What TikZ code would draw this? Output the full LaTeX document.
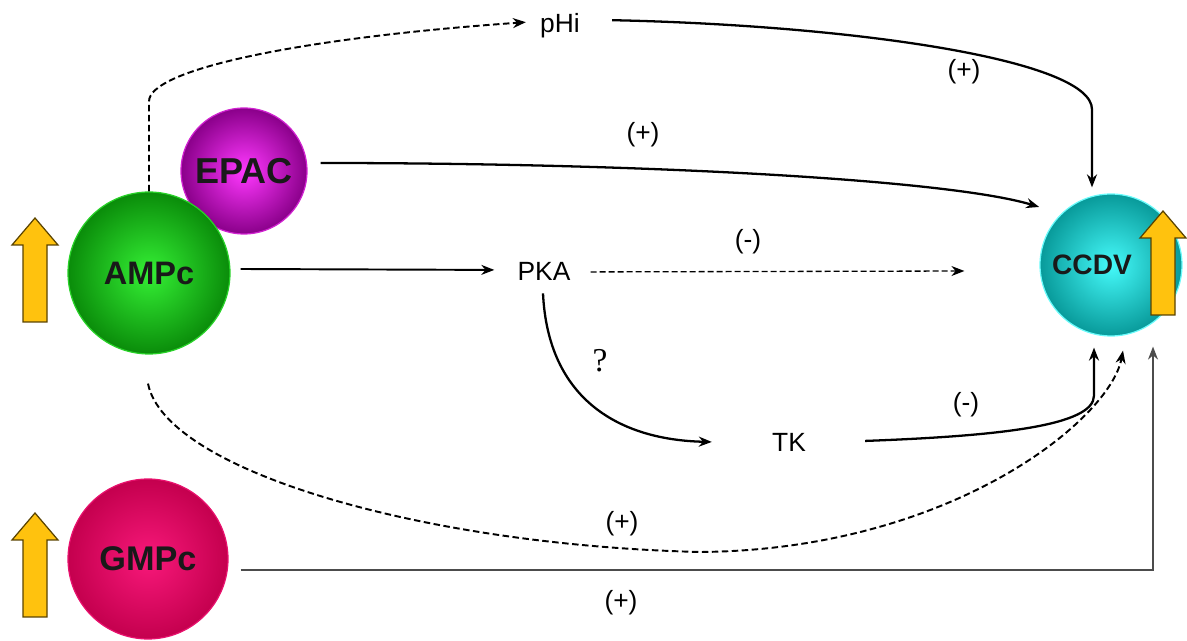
\documentclass[tikz,border=0pt]{standalone}
\usepackage{fontspec}
\setmainfont{Liberation Sans}
\newfontfamily\queryfont{Liberation Serif}
\usetikzlibrary{arrows.meta, calc}
\definecolor{ampIn}{HTML}{35F035}
\definecolor{ampOut}{HTML}{0A8C0A}
\definecolor{epacIn}{HTML}{FF38FF}
\definecolor{epacOut}{HTML}{8A008A}
\definecolor{gmpIn}{HTML}{F8187A}
\definecolor{gmpOut}{HTML}{C4004E}
\definecolor{ccdvIn}{HTML}{45FAFA}
\definecolor{ccdvOut}{HTML}{089A9A}
\definecolor{boostFill}{HTML}{FFC20E}
\definecolor{boostEdge}{HTML}{5A4300}

\begin{document}
\begin{tikzpicture}[
    x=0.02cm, y=-0.02cm,
    >={Stealth[length=0.26cm, width=0.2cm]},
    ball/.style={circle, inner sep=0pt, shading=radial, line width=0.7pt, text=black!90},
    amp/.style={ball, minimum size=3.24cm, draw=ampIn!70!ampOut,
        inner color=ampIn, outer color=ampOut,
        font=\bfseries\fontsize{18.5}{20}\selectfont},
    epac/.style={ball, minimum size=2.52cm, draw=epacIn!60!epacOut,
        inner color=epacIn, outer color=epacOut,
        font=\bfseries\fontsize{20.5}{22}\selectfont},
    gmp/.style={ball, minimum size=3.2cm, draw=gmpIn!70!gmpOut,
        inner color=gmpIn, outer color=gmpOut,
        font=\bfseries\fontsize{19.5}{21}\selectfont},
    ccd/.style={ball, minimum size=2.84cm, draw=ccdvIn!80!white,
        inner color=ccdvIn, outer color=ccdvOut},
    ccdtext/.style={inner sep=0pt, text=black!90, font=\bfseries\fontsize{16}{18}\selectfont},
    lbl/.style={anchor=base, inner sep=0pt, font=\fontsize{15}{18}\selectfont},
    link/.style={->, line width=1.1pt},
    curvy/.style={->, line width=1.3pt},
    hint/.style={->, line width=1.1pt, dash pattern=on 0.13cm off 0.07cm},
    faint/.style={->, line width=0.75pt, dash pattern=on 0.12cm off 0.06cm},
    cgmp/.style={->, line width=0.8pt, draw=black!70},
    boostarrow/.style={fill=boostFill, draw=boostEdge, line width=0.7pt, line join=miter},
    boost/.pic={
        \draw[boostarrow] (-12,0) -- (-12,-77) -- (-23,-77) -- (0,-104)
            -- (23,-77) -- (12,-77) -- (12,0) -- cycle;
    },
]
\useasboundingbox (0,0) rectangle (1187,641);

% balls
\node[epac] (epac) at (244,171) {EPAC};
\node[amp] (ampc) at (149,273) {AMPc};
\node[gmp] (gmpc) at (148,559) {GMPc};
\node[ccd] (ccdv) at (1111,265) {};
\node[ccdtext] (ccdvtext) at (1092,265) {CCDV};

% intermediates
\node[lbl] (phi) at (560,33) {pHi};
\node[lbl] (pka) at (544,281) {PKA};
\node[lbl] (tk) at (789,452) {TK};

% connectors
\draw[hint] (ampc.north) -- ++(0,-90)
    .. controls +(0,-32) and (300,38) .. ($(phi.west)+(-14,-4)$);
\draw[curvy] ($(phi.east)+(32,-6)$)
    .. controls +(238,5) and +(0,-50) .. ($(ccdv.north)+(-19,-84)$)
    -- ($(ccdv.north)+(-19,-6)$);
\draw[curvy] ($(epac.east)+(13,-8)$)
    .. controls (650,163) and (950,180) .. ($(ccdv.140)+(-17,-12)$);
\draw[link] ($(ampc.east)+(10,-4)$) -- ($(pka.west)+(-23,-2)$);
\draw[faint] ($(pka.east)+(20,0)$) -- ($(ccdv.west)+(-75,6)$);
\draw[curvy] ($(pka.south)+(-1,12)$)
    .. controls (548,400) and (620,440) .. ($(tk.west)+(-60,-1)$);
\draw[curvy] ($(tk.east)+(59,-2)$)
    .. controls +(135,-5) and +(0,30) .. ($(ccdv.south)+(-17,59)$)
    -- ($(ccdv.south)+(-17,11)$);
\draw[hint] ($(ampc.south)+(-1,29)$)
    .. controls (165,470) and (420,545) .. (700,552)
    .. controls (950,550) and (1110,420) .. ($(ccdv.south)+(12,14)$);
\draw[cgmp] ($(gmpc.east)+(12,11)$) -| ($(ccdv.south)+(42,10)$);

% signs
\node[lbl] (plusphi) at (964,79) {(+)};
\node[lbl] (plusepac) at (643,142) {(+)};
\node[lbl] (minuspka) at (748,249) {(-)};
\node[lbl, font=\queryfont\fontsize{19}{21}\selectfont] (query) at (600,372) {?};
\node[lbl] (minustk) at (966,412) {(-)};
\node[lbl] (plusamp) at (622,531) {(+)};
\node[lbl] (plusgmp) at (621,610) {(+)};

% rises
\pic at (35,322) {boost};
\pic at (35,617) {boost};
\pic at (1163,315) {boost};

\end{tikzpicture}
\end{document}
